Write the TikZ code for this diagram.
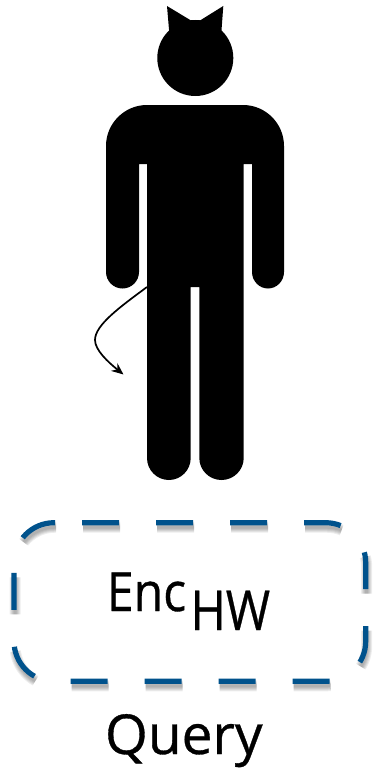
\documentclass[tikz,border=0pt]{standalone}
\usepackage{fontspec}
\setmainfont[RawFeature={embolden=0.6}]{Open Sans}
\usetikzlibrary{arrows.meta}
\definecolor{encblue}{HTML}{00528C}
\tikzset{
  solidshape/.style={fill=black,draw=none},
  tailline/.style={draw=black,line width=1.7pt,-{Stealth[length=12pt,width=10pt,inset=4pt]}},
  bigtext/.style={anchor=base west,inner sep=0pt,outer sep=0pt,text=black},
  boxdash/.style={line width=5.2pt,draw=encblue,dash pattern=on 37pt off 37pt},
  boxshadow/.style={draw=black,dash pattern=on 37pt off 37pt,draw opacity=0.07}
}
\newcommand{\encpath}{(82,522.7) -- (325.7,522.7) .. controls (347.8,522.7) and (365.7,540.6) .. (365.7,562.7) -- (365.7,641.3) .. controls (365.7,663.4) and (347.8,681.3) .. (325.7,681.3) -- (54,681.3) .. controls (31.9,681.3) and (14,663.4) .. (14,641.3) -- (14,562.7) .. controls (14,540.6) and (31.9,522.7) .. (54,522.7) -- (82,522.7)}
\begin{document}
\begin{tikzpicture}[x=1pt,y=-1pt]
\useasboundingbox (0,0) rectangle (376,768);
% head
\fill[solidshape] (195.3,58) circle [radius=38pt];
\fill[solidshape] (169.3,33) -- (167,6) -- (191,20.5) -- (200,20.5) -- (223.3,6) -- (221.3,33) -- cycle;
% body
\fill[solidshape] (147,105) -- (243,105)
  .. controls (265.6,105) and (284,123.4) .. (284,146) -- (284,272)
  .. controls (284,281) and (276.8,288.5) .. (268,288.5)
  .. controls (259.2,288.5) and (252,281) .. (252,272)
  -- (252,164) -- (243.7,164) -- (243.7,458)
  .. controls (243.7,470.1) and (233.8,480) .. (221.5,480)
  .. controls (209.2,480) and (199.3,470.1) .. (199.3,458)
  -- (199.3,287) -- (190.7,287) -- (190.7,458)
  .. controls (190.7,470.1) and (181,480) .. (168.9,480)
  .. controls (156.8,480) and (147,470.1) .. (147,458)
  -- (147,164) -- (139,164) -- (139,272)
  .. controls (139,281.1) and (131.6,288.5) .. (122.5,288.5)
  .. controls (113.4,288.5) and (106,281.1) .. (106,272)
  -- (106,146) .. controls (106,123.4) and (124.4,105) .. (147,105) -- cycle;
% tail
\coordinate (tailstart) at (147,287);
\coordinate (tailend) at (123.5,374.5);
\draw[tailline] (tailstart) .. controls (120,307) and (95,325) .. (95,340) .. controls (95,350) and (108,362) .. (tailend);
% shadow and box
\begin{scope}[yshift=-4.5pt,xshift=1pt]
\foreach \w in {11,9,7,5,3}{\draw[boxshadow,line width=\w pt] \encpath;}
\end{scope}
\draw[boxdash] \encpath;
% text
\node[bigtext,font=\fontsize{54}{64}\selectfont] (enc) at (107,611) {\scalebox{.89}[1]{Enc}};
\node[bigtext,font=\fontsize{55}{64}\selectfont] (hw) at (190.5,630) {\scalebox{.87}[1]{HW}};
\node[bigtext,font=\fontsize{55}{64}\selectfont] (query) at (105,754) {Query};
\end{tikzpicture}
\end{document}
